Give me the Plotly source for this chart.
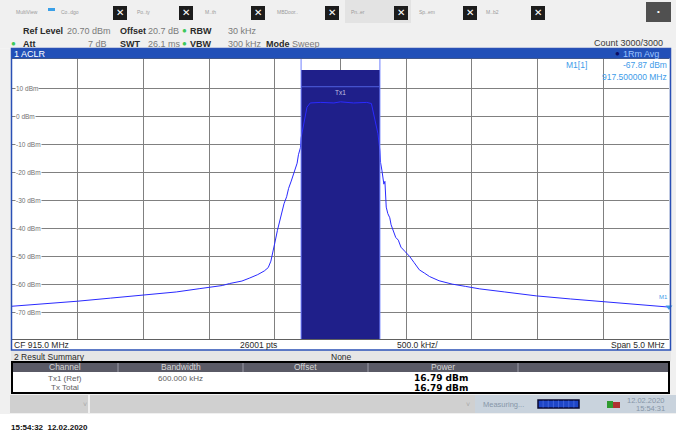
import plotly.graph_objects as go

# ---------------- data ----------------
freq_mhz = [912.50, 912.75, 913.00, 913.25, 913.50, 913.75, 913.93, 914.10, 914.155, 914.25,
            914.31, 914.37, 914.42, 914.45, 914.47, 914.485, 914.50, 914.52, 914.545, 914.57,
            914.59, 914.605, 914.625, 914.64, 914.655, 914.663, 914.67, 914.68, 914.695, 914.70,
            914.72, 914.745, 914.77, 914.85, 914.95, 915.00, 915.10, 915.20, 915.235, 915.26,
            915.285, 915.30, 915.305, 915.315, 915.322, 915.33, 915.338, 915.345, 915.348, 915.36,
            915.375, 915.385, 915.398, 915.42, 915.44, 915.46, 915.49, 915.526, 915.56, 915.60,
            915.64, 915.678, 915.75, 915.85, 915.95, 916.06, 916.25, 916.49, 916.75, 917.00,
            917.25, 917.50]
level_dbm = [-67.6, -66.8, -65.8, -64.7, -63.6, -62.5, -61.3, -60.2, -59.5, -58.6,
             -57.5, -56.3, -55.0, -53.8, -51.5, -48.7, -45.0, -40.5, -36.0, -31.0,
             -28.5, -25.5, -22.9, -20.5, -18.5, -17.0, -16.5, -13.5, -11.0, -7.5,
             -2.0, 3.5, 5.0, 5.2, 5.0, 5.4, 5.0, 5.2, 4.8, -1.0,
             -6.0, -12.0, -16.3, -19.0, -21.6, -24.0, -23.0, -30.0, -32.2, -34.5,
             -36.0, -38.5, -40.5, -43.0, -44.0, -46.5, -48.0, -49.8, -52.0, -54.6,
             -55.8, -57.0, -58.5, -59.7, -60.5, -61.4, -62.5, -63.9, -65.0, -66.0,
             -67.0, -67.9]

center_mhz = 915.0
span_mhz = 5.0
ref_level_dbm = 20.7
range_db = 100.0
grid_levels = [10, 0, -10, -20, -30, -40, -50, -60, -70]
channel_name = "Tx1"
channel_bw_mhz = 0.6
channel_power_dbm = 16.79
channel_label_level = 10.8
marker_freq_mhz = 917.5
marker_level_dbm = -67.87
table_header = ["Channel", "Bandwidth", "Offset", "Power"]
table_rows = [["Tx1 (Ref)", "600.000 kHz", "", "16.79 dBm"],
              ["Tx Total", "", "", "16.79 dBm"]]

# ---------------- geometry helpers ----------------
W, H = 676, 434
L, R, T, B = 12, 669, 59, 339


def px(x):
    return (x - L) / (R - L)


def py(y):
    return (B - y) / (B - T)


shapes = []
annots = []


def rect(x0, y0, x1, y1, fill=None, line=None, lw=1, layer="above"):
    shapes.append(dict(type="rect", xref="paper", yref="paper",
                       x0=px(x0), x1=px(x1), y0=py(y0), y1=py(y1),
                       fillcolor=fill if fill else "rgba(0,0,0,0)",
                       line=dict(color=line if line else "rgba(0,0,0,0)", width=lw if line else 0),
                       layer=layer))


def hline(x0, x1, y, color, lw=1):
    shapes.append(dict(type="line", xref="paper", yref="paper",
                       x0=px(x0), x1=px(x1), y0=py(y), y1=py(y),
                       line=dict(color=color, width=lw)))


def vline(x, y0, y1, color, lw=1):
    shapes.append(dict(type="line", xref="paper", yref="paper",
                       x0=px(x), x1=px(x), y0=py(y0), y1=py(y1),
                       line=dict(color=color, width=lw)))


def txt(x, y, s, size=9, color="#333333", anchor="left", bold=False,
        family="Liberation Sans", bg=None):
    annots.append(dict(xref="paper", yref="paper", x=px(x), y=py(y),
                       text=("<b>%s</b>" % s) if bold else s,
                       showarrow=False, xanchor=anchor, yanchor="middle",
                       font=dict(size=size, color=color, family=family),
                       bgcolor=bg, borderpad=0))


# ---------------- background panels (outside the diagram) ----------------
bg = "#f0f0f0"
rect(0, 0, 676, 48.5, fill=bg, layer="below")
rect(0, 48.5, L, 414, fill=bg, layer="below")
rect(R, 48.5, 676, 414, fill=bg, layer="below")
rect(L, B, R, 414, fill=bg, layer="below")
# tab bar
rect(345, 0, 411, 23, fill="#e3e3e3", layer="below")
tab_labels = [(15, "MultiView"), (60, "Co..dgo"), (136, "Po..ty"), (204, "M..th"),
              (276, "MBDoor.."), (350, "Pn..er"), (418, "Sp..em"), (485, "M..b2")]
for x, s in tab_labels:
    txt(x, 12, s, size=5, color="#9a9a9a")
rect(48, 8, 55, 11, fill="#3aa0e8")
for xc in [120, 186, 258, 332, 401, 470, 538]:
    rect(xc - 7, 6, xc + 7, 20, fill="#1c1c1c")
    txt(xc, 13, "✕", size=10, color="white", anchor="center", bold=True, family="DejaVu Sans")
rect(646, 2, 671, 22, fill="#505050")
txt(658.5, 12, "•", size=8, color="white", anchor="center")

# settings rows
g = "#7a7a7a"
d = "#2a2a2a"
dot = "#3cc85a"
txt(22, 31, "Ref Level", 9, d, bold=True)
txt(66, 31, "20.70 dBm", 9, g)
txt(119, 31, "Offset", 9, d, bold=True)
txt(147, 31, "20.7 dB", 9, g)
txt(184.5, 31, "●", 8, dot, anchor="center")
txt(188.5, 31, "RBW", 9, d, bold=True)
txt(227, 31, "30 kHz", 9, g)
txt(13, 44, "●", 8, dot, anchor="center")
txt(22, 44, "Att", 9, d, bold=True)
txt(108, 44, "7 dB", 9, g, anchor="right")
txt(119, 44, "SWT", 9, d, bold=True)
txt(147, 44, "26.1 ms", 9, g)
txt(184.5, 44, "●", 8, dot, anchor="center")
txt(188.5, 44, "VBW", 9, d, bold=True)
txt(227, 44, "300 kHz", 9, g)
txt(265, 44, "Mode", 9, d, bold=True)
txt(291, 44, "Sweep", 9, g)
txt(664, 43, "Count 3000/3000", 9, "#3a3a3a", anchor="right")

# window title bar
rect(11, 48.5, 671, 58.5, fill="#2150b8")
txt(13, 53.5, "1 ACLR", 9, "white")
txt(622, 53.5, "1Rm Avg", 9, "#9cc4ff")
txt(617.5, 53.5, "●", 8, "#0c0c60", anchor="center")

# lower info row and result summary area
rect(11, B, 671, 350, fill="white", layer="below")
txt(13, 345, "CF 915.0 MHz", 8.5, d)
txt(258, 345, "26001 pts", 8.5, d, anchor="center")
txt(417, 345, "500.0 kHz/", 8.5, d, anchor="center")
txt(666, 345, "Span 5.0 MHz", 8.5, d, anchor="right")
# window frame
rect(11.5, 48.5, 670.5, 350, line="#2a50b5", lw=1.5)

rect(11, 351, 671, 361.5, fill="#e6e6e6", layer="below")
txt(13, 356.5, "2 Result Summary", 8.5, d)
txt(341, 356.5, "None", 8.5, d, anchor="center")

# table
rect(12, 362, 669, 393, fill="white", layer="below")
rect(12, 362, 669, 372, fill="#5a5a66")
col_edges = [12, 118, 243, 368, 518, 669]
for xe in col_edges[1:-1]:
    vline(xe, 362.5, 372, "#9a9aa6", 1)
for i, h in enumerate(table_header):
    xc = (col_edges[i] + col_edges[i + 1]) / 2
    txt(xc, 367, h, 8.5, "#d8d8d8", anchor="center")
row_y = [378, 387.5]
for r, row in enumerate(table_rows):
    for i, s in enumerate(row):
        if not s:
            continue
        xc = (col_edges[i] + col_edges[i + 1]) / 2
        if i == 3:
            txt(xc - 2, row_y[r], s, 9, "black", anchor="center", bold=True, family="DejaVu Sans")
        else:
            txt(xc, row_y[r], s, 8, "#606060", anchor="center")
rect(12, 362, 669, 393, line="black", lw=2)

# status bar
rect(10, 395, 88, 413, fill="#d0d0d0")
rect(90, 395, 475, 413, fill="#d0d0d0")
rect(475, 395, 676, 413, fill="#c9d3dd")
txt(85, 404, "˅", 7, "#a8a8a8", anchor="center")
txt(468, 404, "˅", 7, "#a8a8a8", anchor="center")
txt(482, 404, "Measuring...", 7.5, "#8796a8")
rect(538, 400, 579, 408, fill="#1e46c8", line="#0a0a30", lw=1.5)
for k in range(1, 8):
    vline(538 + k * 41 / 8, 400.5, 407.5, "#5a7ae8", 0.6)
rect(607, 401, 613, 408, fill="#2f9a2f")
rect(613, 402, 620, 408, fill="#b03030")
txt(666, 400.5, "12.02.2020", 7.5, "#8796a8", anchor="right")
txt(666, 408, "15:54:31", 7.5, "#8796a8", anchor="right")

txt(10, 427, "15:54:32  12.02.2020", 8, "#111111", bold=True)

# y tick labels (inside the diagram)
for v in grid_levels:
    annots.append(dict(xref="paper", yref="y", x=px(15), y=v, text="%d dBm" % v,
                       showarrow=False, xanchor="left", yanchor="middle",
                       font=dict(size=6.5, color="#707070", family="Liberation Sans"),
                       bgcolor="white", borderpad=0))

# channel decoration
ch_lo = center_mhz - channel_bw_mhz / 2
ch_hi = center_mhz + channel_bw_mhz / 2
y_bottom = ref_level_dbm - range_db
for xe in (ch_lo, ch_hi):
    shapes.append(dict(type="line", xref="x", yref="y", x0=xe, x1=xe,
                       y0=y_bottom, y1=ref_level_dbm,
                       line=dict(color="#7080ff", width=1)))
shapes.append(dict(type="line", xref="x", yref="y", x0=ch_lo, x1=ch_hi,
                   y0=channel_label_level, y1=channel_label_level,
                   line=dict(color="#5060e0", width=1)))
annots.append(dict(xref="x", yref="y", x=center_mhz, y=channel_label_level, yshift=-6,
                   text=channel_name, showarrow=False, xanchor="center", yanchor="middle",
                   font=dict(size=6.5, color="#c0c0e0", family="Liberation Sans")))

# marker readout
mc = "#3d9be9"
txt(565, 65, "M1[1]", 8.5, mc)
txt(668, 65, "%.2f dBm" % marker_level_dbm, 8.5, mc, anchor="right")
txt(668, 77, "%.6f MHz" % marker_freq_mhz, 8.5, mc, anchor="right")
annots.append(dict(xref="x", yref="y", x=marker_freq_mhz, y=marker_level_dbm,
                   text="M1", showarrow=False, xanchor="right", yanchor="middle",
                   yshift=10, xshift=1, font=dict(size=6, color=mc, family="Liberation Sans")))

# ---------------- traces ----------------
fig = go.Figure()
fig.add_trace(go.Bar(x=[center_mhz], y=[channel_power_dbm - y_bottom], base=[y_bottom],
                     width=[channel_bw_mhz], marker=dict(color="#1f1f8a", line=dict(width=0)),
                     hoverinfo="skip"))
fig.add_trace(go.Scatter(x=freq_mhz, y=level_dbm, mode="lines",
                         line=dict(color="#2a2aff", width=1), hoverinfo="skip"))
fig.add_trace(go.Scatter(x=[marker_freq_mhz], y=[marker_level_dbm], mode="markers",
                         marker=dict(symbol="triangle-down", size=6, color=mc),
                         cliponaxis=False, hoverinfo="skip"))

fig.update_layout(
    width=W, height=H, showlegend=False,
    margin=dict(l=L, r=W - R, t=T, b=H - B, pad=0),
    paper_bgcolor="white", plot_bgcolor="white",
    shapes=shapes, annotations=annots, bargap=0,
    xaxis=dict(range=[center_mhz - span_mhz / 2, center_mhz + span_mhz / 2],
               dtick=span_mhz / 10, tick0=center_mhz, showticklabels=False, ticks="",
               showgrid=True, gridcolor="#808080", gridwidth=1, zeroline=False,
               showline=True, linecolor="#606060", mirror=True, fixedrange=True),
    yaxis=dict(range=[y_bottom, ref_level_dbm], tickvals=grid_levels, showticklabels=False,
               ticks="", showgrid=True, gridcolor="#808080", gridwidth=1, zeroline=False,
               showline=False, fixedrange=True),
)

fig.write_html("out.html", config={"displayModeBar": False},
               post_script="document.body.style.margin='0';document.body.style.overflow='hidden';")
